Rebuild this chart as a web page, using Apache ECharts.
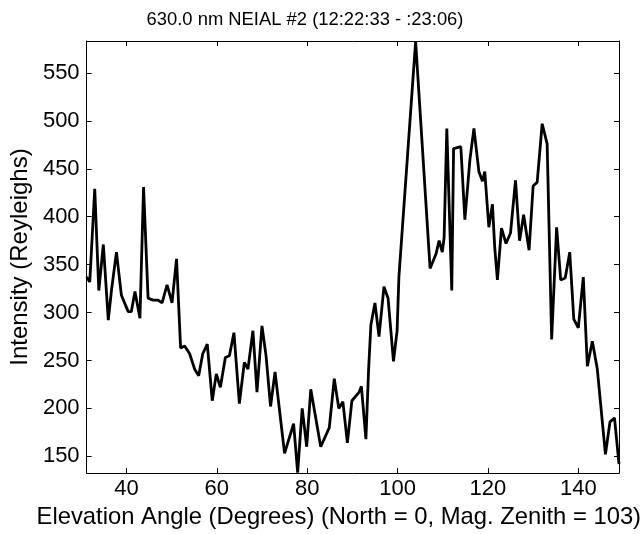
<!DOCTYPE html>
<html>
<head>
<meta charset="utf-8">
<script src="https://cdn.jsdelivr.net/npm/echarts@6/dist/echarts.min.js"></script>
<style>html,body{margin:0;padding:0;background:#fff;}#c{width:644px;height:534px;}</style>
</head>
<body>
<div id="c"></div>
<script>
const angles = [31.2,31.9,33.0,33.9,34.9,36.0,36.7,37.8,38.9,40.4,41.1,41.9,43.0,43.8,44.8,45.9,47.0,47.9,49.0,50.1,
  51.1,52.0,52.9,54.0,55.1,56.0,56.9,57.9,59.0,59.9,60.8,61.9,62.8,63.8,65.0,66.1,66.9,68.0,68.9,70.0,
  70.9,71.9,72.9,75.0,77.0,77.9,78.9,79.9,80.8,83.0,84.9,86.0,87.0,87.9,88.9,89.9,91.5,92.0,93.0,93.6,
  94.1,95.0,95.9,97.0,97.9,99.1,99.9,100.3,104.0,107.2,108.5,109.2,109.9,110.3,110.9,112.0,112.4,114.0,114.9,116.0,
  116.9,118.0,118.8,119.3,120.2,121.0,121.5,122.1,123.0,124.0,125.0,126.1,127.0,127.9,129.1,130.0,130.9,132.0,133.1,134.1,
  135.2,136.1,137.1,138.1,139.0,140.0,141.1,142.0,143.1,144.2,146.0,147.0,148.0,149.0];
const intensity = [337,332,429,323,371,292,323,363,318,301,301,322,294,431,315,313,313,310,329,310,
  356,263,265,257,241,234,257,267,208,236,222,253,255,279,205,248,241,281,217,286,
  255,202,238,153,184,133,200,160,220,160,180,231,200,207,164,208,217,223,168,241,
  287,310,275,327,315,249,281,337,583,346,361,375,363,378,492,323,471,473,397,459,
  492,447,437,447,389,413,368,334,388,372,383,438,375,402,365,432,436,497,476,272,
  389,334,336,363,293,284,337,244,270,241,152,186,190,142];
const xTicks = [40,60,80,100,120,140];
const yTicks = [150,200,250,300,350,400,450,500,550];
const titleText = '630.0 nm NEIAL #2 (12:22:33 - :23:06)';
const xName = 'Elevation Angle (Degrees) (North = 0, Mag. Zenith = 103)';
const yName = 'Intensity (Reyleighs)';

const FONT = 'Liberation Sans, Arial, sans-serif';
const X_MIN = 31.2, X_MAX = 149.0, Y_MIN = 132.5, Y_MAX = 583.3;

const lineStyle = {color:'#000', width:1};
function xAx(pos, labels){
  return {
    type:'value', position:pos, min:X_MIN, max:X_MAX,
    name: labels ? xName : '', nameLocation:'middle', nameGap:26,
    nameTextStyle:{fontFamily:FONT, fontSize:23.8, color:'#000', padding:[0,28,0,0]},
    axisLine:{show:true, onZero:false, lineStyle},
    axisTick:{show:true, inside:true, length:5, customValues:xTicks, lineStyle},
    axisLabel:{show:labels, customValues:xTicks, fontFamily:FONT, fontSize:22, color:'#000', margin:5},
    splitLine:{show:false}
  };
}
function yAx(pos, labels){
  return {
    type:'value', position:pos, min:Y_MIN, max:Y_MAX,
    name: labels ? yName : '', nameLocation:'middle', nameGap:51, nameRotate:90,
    nameTextStyle:{fontFamily:FONT, fontSize:24, color:'#000'},
    axisLine:{show:true, onZero:false, lineStyle},
    axisTick:{show:true, inside:true, length:5, customValues:yTicks, lineStyle},
    axisLabel:{show:labels, customValues:yTicks, fontFamily:FONT, fontSize:22, color:'#000', margin:7},
    splitLine:{show:false}
  };
}
const chart = echarts.init(document.getElementById('c'), null, {renderer:'canvas'});
chart.setOption({
  animation:false,
  backgroundColor:'#fff',
  title:{text:titleText, left:300, textAlign:'center', top:6,
    textStyle:{fontFamily:FONT, fontSize:18.4, fontWeight:'normal', color:'#000'}},
  grid:{left:85, right:25, top:41, bottom:54, containLabel:false},
  xAxis:[xAx('bottom', true), xAx('top', false)],
  yAxis:[yAx('left', true), yAx('right', false)],
  series:[{
    type:'line', xAxisIndex:0, yAxisIndex:0,
    data: angles.map((a,i)=>[a, intensity[i]]),
    showSymbol:false, symbol:'none',
    lineStyle:{color:'#000', width:2.8},
    clip:true
  }]
});
</script>
</body>
</html>
